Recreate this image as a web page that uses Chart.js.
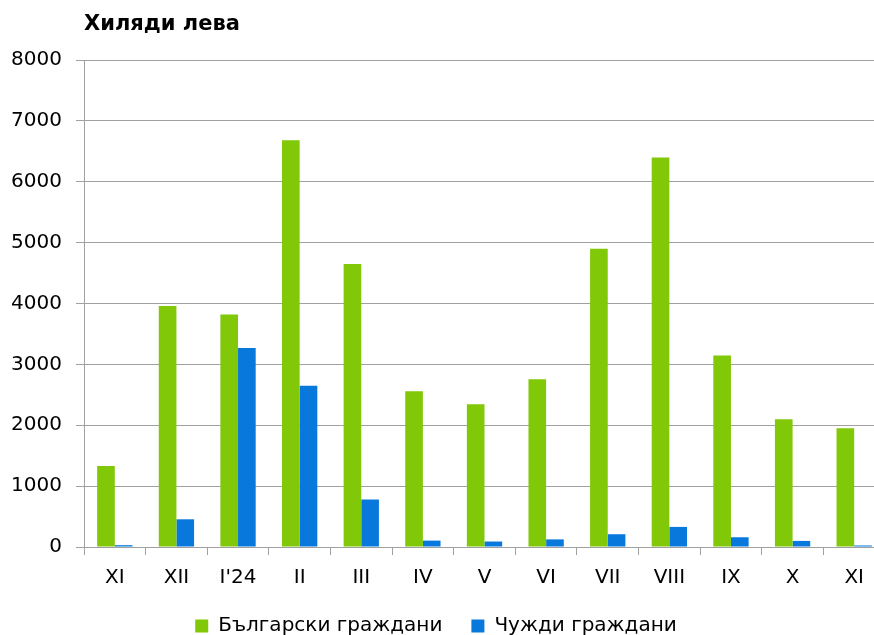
<!DOCTYPE html>
<html>
<head>
<meta charset="utf-8">
<script src="https://cdn.jsdelivr.net/npm/chart.js@4/dist/chart.umd.min.js"></script>
<style>
    html, body { margin: 0; padding: 0; background: #fff; overflow: hidden; }
    #chart { display: block; }
</style>
</head>
<body>
<canvas id="chart" width="890" height="635"></canvas>
<script>
// Месеци (ноември 2023 - ноември 2024)
const MONTHS = ['XI', 'XII', "I'24", 'II', 'III', 'IV', 'V', 'VI', 'VII', 'VIII', 'IX', 'X', 'XI'];

// Хиляди лева
const BULGARIAN = [1330, 3960, 3820, 6680, 4650, 2560, 2345, 2755, 4900, 6400, 3145, 2100, 1950];
const FOREIGN = [30, 455, 3270, 2650, 780, 105, 90, 125, 210, 330, 160, 100, 25];

const SERIES_LABELS = ['Български граждани', 'Чужди граждани'];
const Y_TICKS = [0, 1000, 2000, 3000, 4000, 5000, 6000, 7000, 8000];

const COLORS = {
    bg: '#80c808',
    foreign: '#0878dc',
    grid: '#a0a0a0'
};

const FONT = 'DejaVu Sans, Verdana, sans-serif';

// Title over the y axis, left-aligned to the plot area
const unitTitle = {
    id: 'unitTitle',
    afterDraw(chart) {
        const ctx = chart.ctx;
        ctx.save();
        ctx.font = 'bold 21px ' + FONT;
        ctx.fillStyle = '#000';
        ctx.textBaseline = 'alphabetic';
        ctx.textAlign = 'left';
        ctx.fillText('Хиляди лева', chart.chartArea.left, 30);
        ctx.restore();
    }
};

// Legend: sit a bit lower and a bit more to the left
const legendShift = {
    id: 'legendShift',
    beforeInit(chart) {
        const fit = chart.legend.fit;
        chart.legend.fit = function () {
            fit.bind(chart.legend)();
            this.height -= 11;
            if (this.lineWidths) this.lineWidths[0] += 24;
        };
    }
};

const ctx = document.getElementById('chart').getContext('2d');
new Chart(ctx, {
    type: 'bar',
    data: {
        labels: MONTHS,
        datasets: [
            {
                label: SERIES_LABELS[0],
                data: BULGARIAN,
                backgroundColor: COLORS.bg,
                borderWidth: 0
            },
            {
                label: SERIES_LABELS[1],
                data: FOREIGN,
                backgroundColor: COLORS.foreign,
                borderWidth: 0
            }
        ]
    },
    options: {
        responsive: false,
        animation: false,
        layout: {
            padding: { top: 60, left: 11, right: 5, bottom: 0 }
        },
        datasets: {
            bar: {
                categoryPercentage: 0.573,
                barPercentage: 1.0
            }
        },
        plugins: {
            title: { display: false },
            tooltip: { enabled: false },
            legend: {
                position: 'bottom',
                labels: {
                    font: { family: FONT, size: 20 },
                    color: '#000',
                    boxWidth: 13,
                    boxHeight: 13,
                    padding: 29
                }
            }
        },
        scales: {
            x: {
                afterFit(axis) {
                    axis.height = 40;
                },
                grid: {
                    drawOnChartArea: false,
                    drawTicks: true,
                    tickLength: 8,
                    color: COLORS.grid
                },
                border: { color: COLORS.grid },
                ticks: {
                    font: { family: FONT, size: 20 },
                    color: '#000',
                    padding: 11,
                    maxRotation: 0,
                    autoSkip: false
                }
            },
            y: {
                min: 0,
                max: 8000,
                afterBuildTicks(axis) {
                    axis.ticks = Y_TICKS.map(v => ({ value: v }));
                },
                afterFit(axis) {
                    axis.width = 73;
                },
                grid: {
                    color: COLORS.grid,
                    tickLength: 8
                },
                border: { color: COLORS.grid },
                ticks: {
                    font: { family: FONT, size: 20 },
                    color: '#000',
                    padding: 14,
                    callback: v => String(v)
                }
            }
        }
    },
    plugins: [unitTitle, legendShift]
});
</script>
</body>
</html>
